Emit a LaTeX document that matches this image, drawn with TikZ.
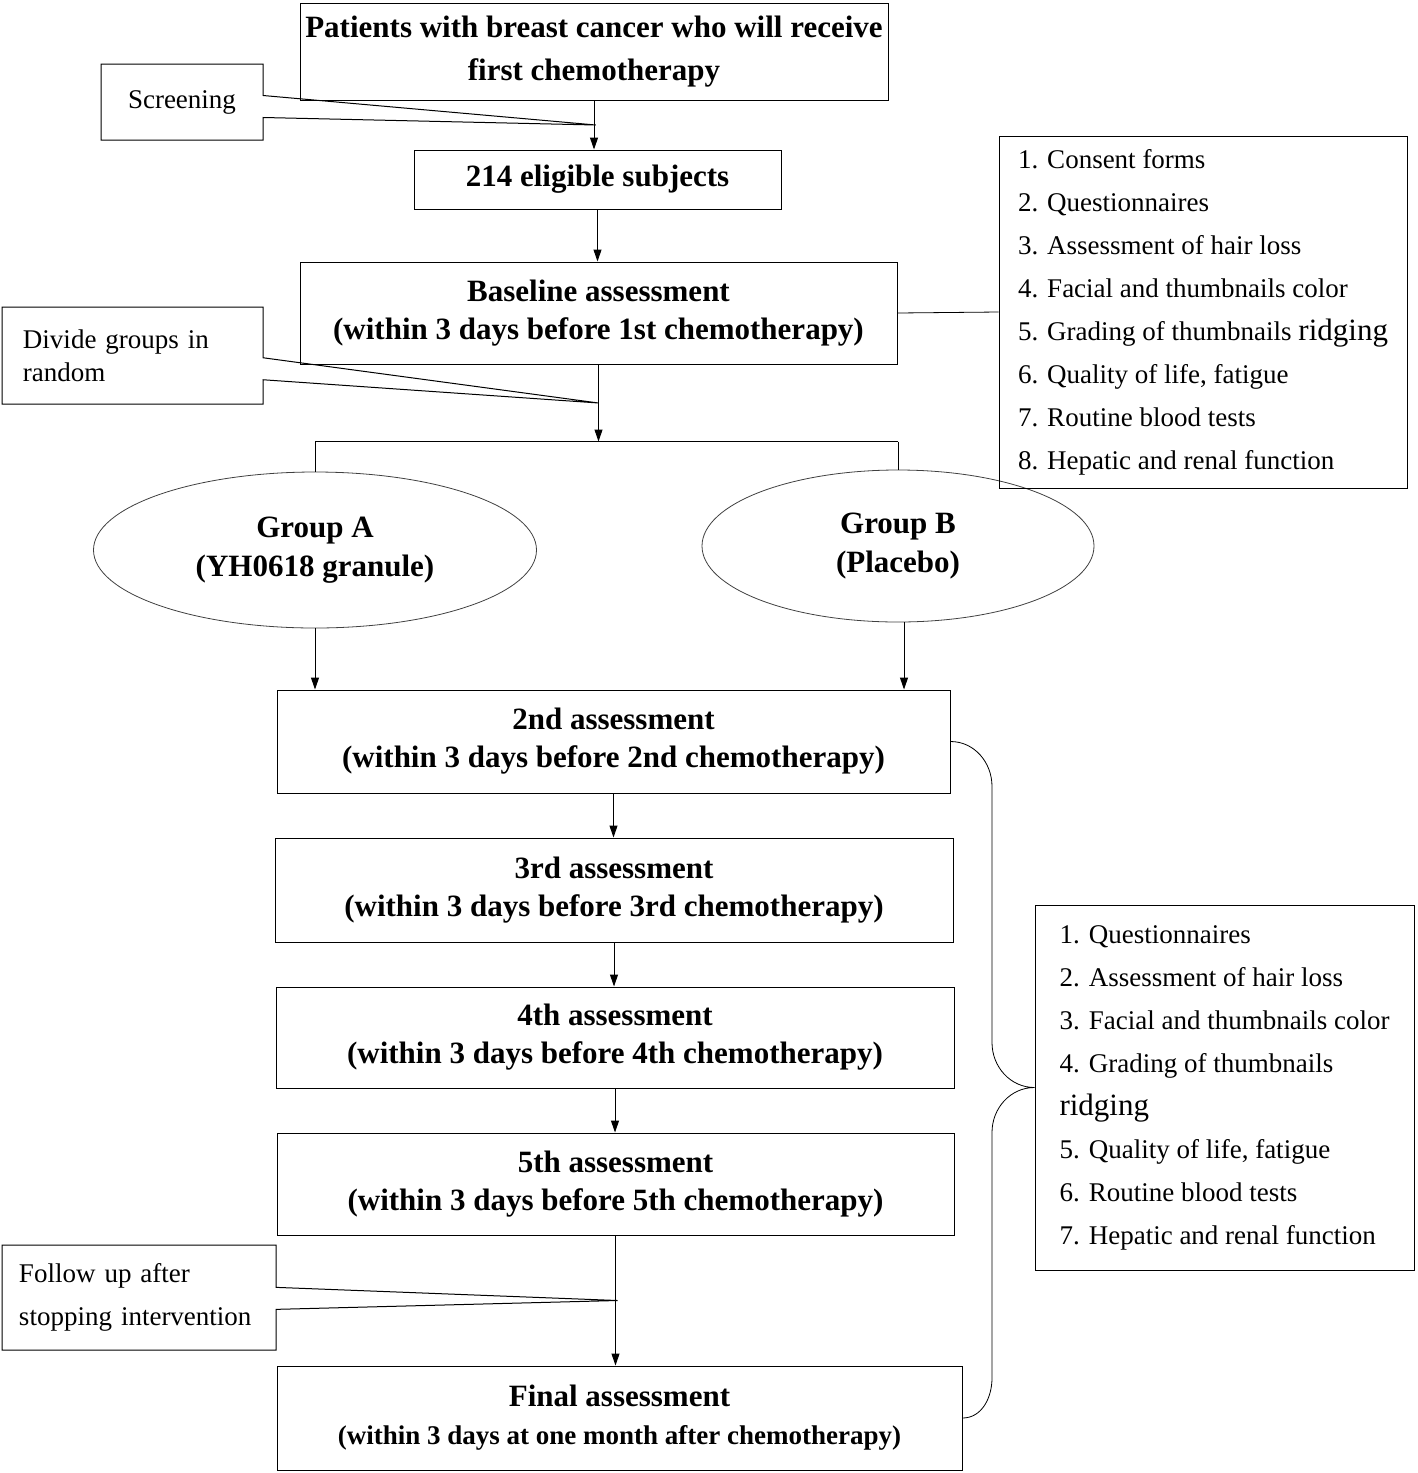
\documentclass[tikz,border=0pt]{standalone}
\usepackage{fontspec}
\setmainfont{Liberation Serif}
\usepackage{tikz}
\usetikzlibrary{shapes.geometric, shapes.callouts, arrows.meta, positioning, calc}

\tikzset{
  stagebox/.style={draw, line width=1pt, align=center, inner sep=0pt,
    font=\bfseries\fontsize{31}{38}\selectfont},
  groupoval/.style={draw=black!75, line width=0.8pt, ellipse, align=center, inner sep=0pt,
    font=\bfseries\fontsize{31}{39}\selectfont},
  note/.style={rectangle callout, draw, line width=1pt, inner sep=0pt,
    callout pointer width=22pt, font=\fontsize{27}{33}\selectfont},
  listbox/.style={draw, line width=1pt, align=left, inner sep=0pt,
    font=\fontsize{27}{43}\selectfont},
  flow/.style={line width=1pt, -{Triangle[length=12pt,width=8pt]}},
}

\begin{document}
\begin{tikzpicture}[x=1pt, y=1pt]
  \useasboundingbox (0,0) rectangle (1418,-1473);

  % Main stages
  \node[stagebox, minimum width=588pt, minimum height=97pt,
    font=\bfseries\fontsize{31}{43}\selectfont] (patients) at (594,-51.5)
    {Patients with breast cancer who will receive\\first chemotherapy};
  \node[stagebox, minimum width=367pt, minimum height=59pt] (eligible) at (597.5,-179.5)
    {214 eligible subjects};
  \node[stagebox, minimum width=597pt, minimum height=102pt] (baseline) at (598.5,-313)
    {Baseline assessment\\(within 3 days before 1st chemotherapy)};

  % Randomised groups
  \node[groupoval, minimum width=443pt, minimum height=156pt] (grpA) at (315,-550)
    {Group A\\(YH0618 granule)};
  \node[groupoval, minimum width=392pt, minimum height=152pt] (grpB) at (898,-546)
    {Group B\\(Placebo)};

  % Follow-up assessments
  \node[stagebox, minimum width=673pt, minimum height=103pt] (second) at (613.5,-741.5)
    {2nd assessment\\(within 3 days before 2nd chemotherapy)};
  \node[stagebox, minimum width=678pt, minimum height=104pt] (third) at (614,-890)
    {3rd assessment\\(within 3 days before 3rd chemotherapy)};
  \node[stagebox, minimum width=678pt, minimum height=101pt] (fourth) at (615,-1037.5)
    {4th assessment\\(within 3 days before 4th chemotherapy)};
  \node[stagebox, minimum width=677pt, minimum height=102pt] (fifth) at (615.5,-1184)
    {5th assessment\\(within 3 days before 5th chemotherapy)};
  \node[stagebox, minimum width=685pt, minimum height=104pt] (final) at (619.5,-1418)
    {Final assessment\\{\fontsize{27}{34}\selectfont(within 3 days at one month after chemotherapy)}};

  % Tips of the side notes
  \coordinate (screentip) at ($(patients.south)!0.5!(eligible.north)$);
  \coordinate (split) at ($(baseline.south)+(0,-77)$);
  \coordinate (dividetip) at ($(baseline.south)!0.5!(split)$);
  \coordinate (followtip) at ($(fifth.south)!0.5!(final.north)$);

  % Side notes
  \node[note, align=center, minimum width=162pt, minimum height=76pt,
    callout absolute pointer={(screentip)}] (screening) at (182,-102) {Screening};
  \node[note, align=left, text width=219pt, minimum width=261pt, minimum height=97pt,
    callout absolute pointer={(dividetip)}] (divide) at (132.5,-355.5)
    {Divide groups in\\random};
  \node[note, align=left, text width=240pt, minimum width=274pt, minimum height=105pt,
    font=\fontsize{27}{43}\selectfont,
    callout absolute pointer={(followtip)}] (follow) at (139,-1297.5)
    {Follow up after\\stopping intervention};

  % Assessment lists
  \node[listbox, minimum width=408pt, minimum height=352pt] (listone) at (1203,-312)
    {1. Consent forms\\2. Questionnaires\\3. Assessment of hair loss\\
     4. Facial and thumbnails color\\
     5. Grading of thumbnails {\fontsize{31}{43}\selectfont ridging}\\
     6. Quality of life, fatigue\\7. Routine blood tests\\8. Hepatic and renal function};
  \node[listbox, minimum width=379pt, minimum height=365pt] (listtwo) at (1224.5,-1087.5)
    {1. Questionnaires\\2. Assessment of hair loss\\3. Facial and thumbnails color\\
     4. Grading of thumbnails\\{\fontsize{31}{43}\selectfont ridging}\\
     5. Quality of life, fatigue\\6. Routine blood tests\\7. Hepatic and renal function};

  % Arrows
  \draw[flow] (patients.south) -- (patients.south |- eligible.north);
  \draw[flow] (eligible.south) -- (eligible.south |- baseline.north);
  \draw[flow] (baseline.south) -- (split);
  \draw[line width=1pt] (grpA.north |- split) -- (grpB.north |- split);
  \draw[line width=1pt] (grpA.north |- split) -- (grpA.north);
  \draw[line width=1pt] (grpB.north |- split) -- (grpB.north);
  \draw[flow] (grpA.south) -- (grpA.south |- second.north);
  \draw[flow] ([xshift=6pt]grpB.south) -- ([xshift=6pt]grpB.south |- second.north);
  \draw[flow] (second.south) -- (second.south |- third.north);
  \draw[flow] (third.south) -- (third.south |- fourth.north);
  \draw[flow] (fourth.south) -- (fourth.south |- fifth.north);
  \draw[flow] (fifth.south) -- (fifth.south |- final.north);

  % Links to the lists
  \draw[line width=0.8pt] (baseline.east) -- (listone.west);
  \coordinate (bx) at (992,0);
  \draw[line width=0.8pt] (second.east) to[out=0,in=90] ($(bx |- second.east)+(0,-45)$)
    -- ($(bx |- listtwo.west)+(0,45)$) to[out=-90,in=180] (listtwo.west)
    to[out=180,in=90] ($(bx |- listtwo.west)+(0,-45)$)
    -- ($(bx |- final.east)+(0,40)$) to[out=-90,in=0] (final.east);
\end{tikzpicture}
\end{document}
